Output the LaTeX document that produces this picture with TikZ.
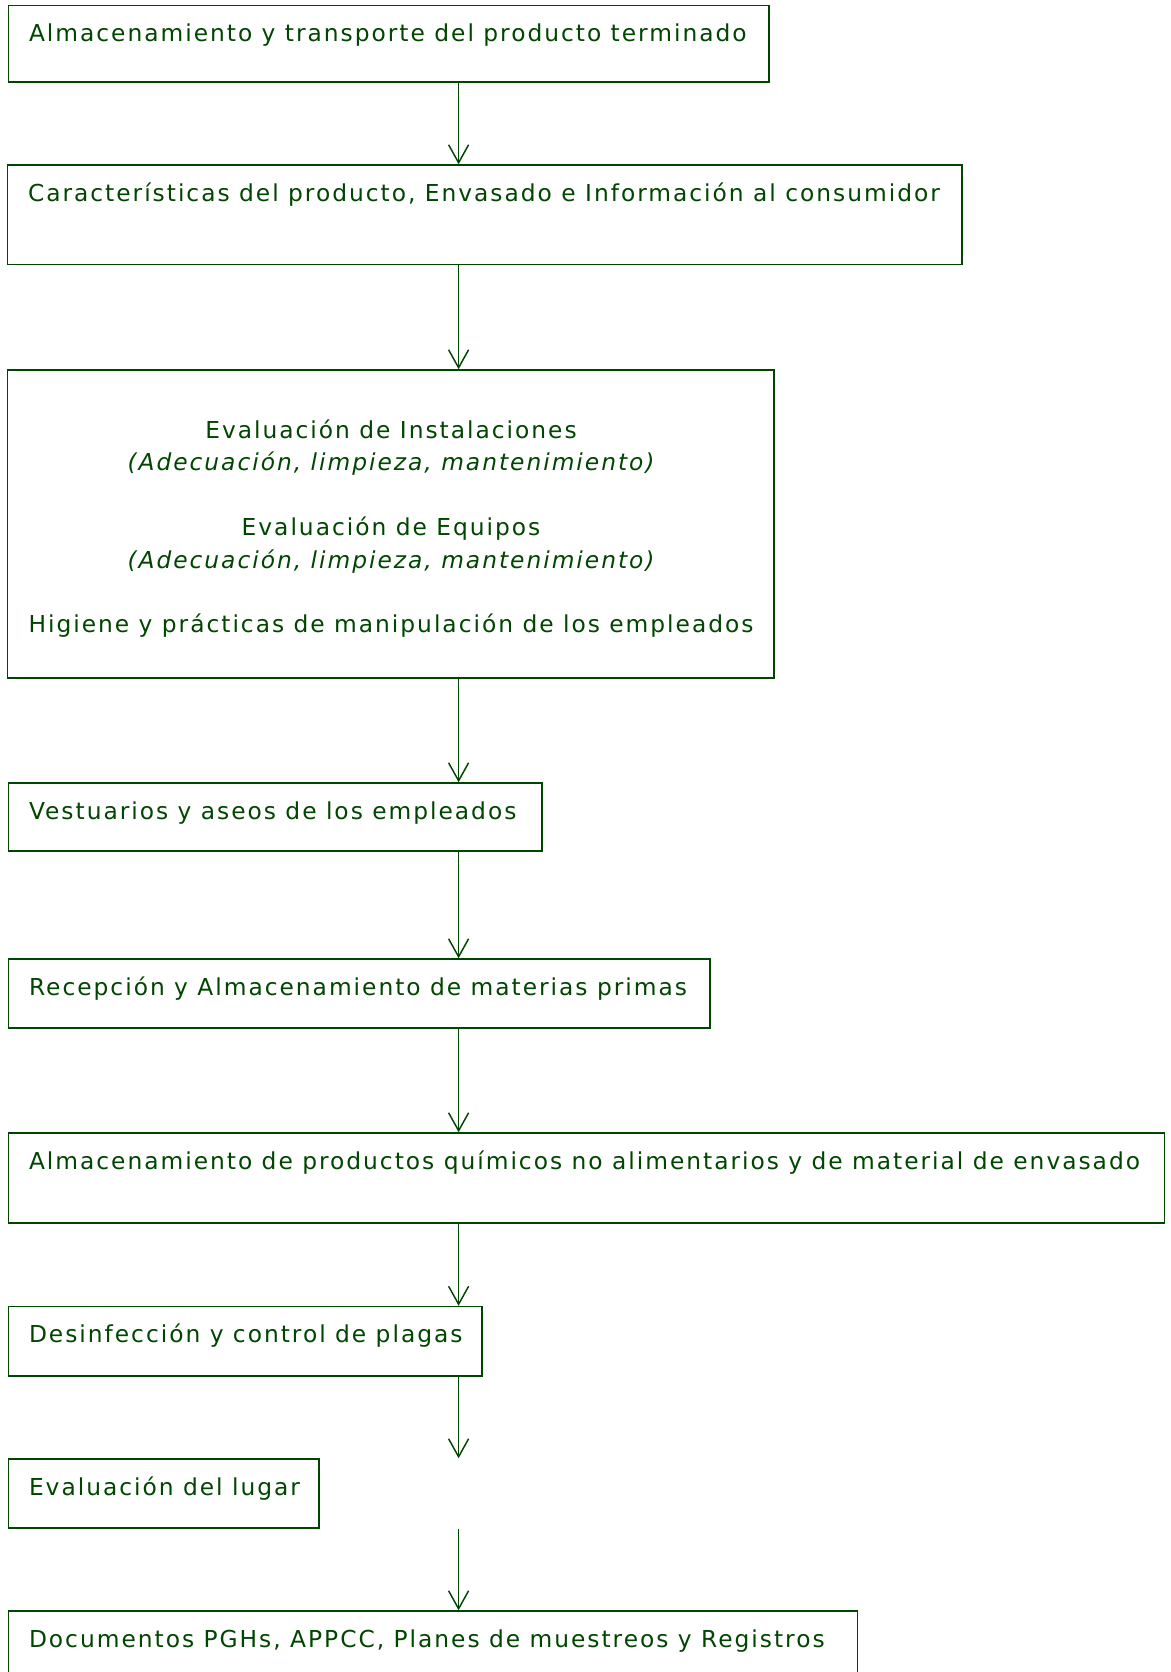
\documentclass[tikz,border=0pt]{standalone}
\usepackage{fontspec}
\setmainfont{DejaVu Sans}[LetterSpace=8.5]
\usetikzlibrary{arrows.meta, fit}
\definecolor{hgreen}{RGB}{0,70,0}

\begin{document}
\begin{tikzpicture}[
		x=0.75pt, y=-0.75pt,
		box/.style	={ draw=hgreen, line width=1.1pt,
			inner sep=0pt
		},
		lbl/.style	={ text=hgreen, inner sep=0pt,
			font=\fontsize{17.5pt}{20pt}\selectfont
		},
		arr/.style	={ draw=hgreen, line width=1.1pt,
			-{Straight Barb[length=13.5pt, width=15pt, line width=1.1pt]}
		},
	]
	\clip (0,0) rectangle (1171,1672);

	\def\boxlist{	1/8.5/5.3/769/82, 2/7.5/165/962/264.5, 3/7.5/370/774/678,
								4/8.5/783/542/851, 5/8.5/959/710/1028, 6/8.5/1133/1164.6/1223,
								7/8.5/1306.5/482/1376, 8/8.5/1459/319/1528, 9/8.5/1611/857.5/1700}

	% declare boxes
	\foreach \name/\l/\t/\r/\b in \boxlist {
			\path (\l,\t) coordinate (nw\name) (\r,\b) coordinate (se\name);
			\node (b\name) [box, fit=(nw\name)(se\name)] {};
		}
	\coordinate (ax) at (458.6,0);

	% texts of the boxes
	\node (t1) [lbl, anchor=base west] at ([shift={(21,37)}]b1.north west)
				{Almacenamiento y transporte del producto terminado};
	\node (t2) [lbl, anchor=base west] at ([shift={(21,37)}]b2.north west)
				{Características del producto, Envasado e Información al consumidor};
	\node (t3a) [lbl, anchor=base] at (391,438) {Evaluación de Instalaciones};
	\node (t3b) [lbl, anchor=base] at (391,470.5) {\itshape(Adecuación, limpieza, mantenimiento)};
	\node (t3c) [lbl, anchor=base] at (391,535.5) {Evaluación de Equipos};
	\node (t3d) [lbl, anchor=base] at (391,568) {\itshape(Adecuación, limpieza, mantenimiento)};
	\node (t3e) [lbl, anchor=base] at (391,632.5) {Higiene y prácticas de manipulación de los empleados};
	\node (t4) [lbl, anchor=base west] at ([shift={(21,37)}]b4.north west)
				{Vestuarios y aseos de los empleados};
	\node (t5) [lbl, anchor=base west] at ([shift={(21,37)}]b5.north west)
				{Recepción y Almacenamiento de materias primas};
	\node (t6) [lbl, anchor=base west] at ([shift={(21,37)}]b6.north west)
				{Almacenamiento de productos químicos no alimentarios y de material de envasado};
	\node (t7) [lbl, anchor=base west] at ([shift={(21,37)}]b7.north west)
				{Desinfección y control de plagas};
	\node (t8) [lbl, anchor=base west] at ([shift={(21,37)}]b8.north west)
				{Evaluación del lugar};
	\node (t9) [lbl, anchor=base west] at ([shift={(21,37)}]b9.north west)
				{Documentos PGHs, APPCC, Planes de muestreos y Registros};

	% draw arrows
	\foreach \from/\to in {1/2, 2/3, 3/4, 4/5, 5/6, 6/7, 7/8, 8/9}
		\draw [arr] (b\from.south -| ax) -- (b\to.north -| ax);

\end{tikzpicture}
\end{document}
